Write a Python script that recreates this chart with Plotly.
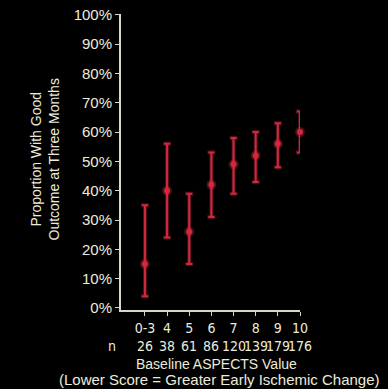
import plotly.graph_objects as go

categories = ["0-3", "4", "5", "6", "7", "8", "9", "10"]
n_counts = ["26", "38", "61", "86", "120", "139", "179", "176"]
proportion = [15, 40, 26, 42, 49, 52, 56, 60]
upper_ci = [35, 56, 39, 53, 58, 60, 63, 67]
lower_ci = [4, 24, 15, 31, 39, 43, 48, 53]
y_ticks = [0, 10, 20, 30, 40, 50, 60, 70, 80, 90, 100]
y_ticktext = [f"{v}%" for v in y_ticks]

xpos = list(range(len(categories)))
err_plus = [u - p for u, p in zip(upper_ci, proportion)]
err_minus = [p - l for p, l in zip(proportion, lower_ci)]

TXT = "#ecebdc"
RED = "#d2283e"
FONT = "Liberation Sans"
NARROW = "Liberation Sans Narrow, Arial Narrow, DejaVu Sans Condensed, Liberation Sans"
FS = 15

fig = go.Figure()
# glow layer
fig.add_trace(go.Scatter(
    x=xpos, y=proportion, mode="markers", cliponaxis=False,
    marker=dict(size=10, color="rgba(210,40,62,0.35)", symbol="circle"),
    error_y=dict(type="data", symmetric=False, array=err_plus, arrayminus=err_minus,
                 color="rgba(210,40,62,0.35)", thickness=4, width=4),
    hoverinfo="skip", showlegend=False))
fig.add_trace(go.Scatter(
    x=xpos, y=proportion, mode="markers", cliponaxis=False,
    marker=dict(size=6, color=RED, symbol="circle"),
    error_y=dict(type="data", symmetric=False, array=err_plus, arrayminus=err_minus,
                 color=RED, thickness=2, width=3),
    showlegend=False))

def ann(text, x, y, size=FS, family=FONT, xref="paper", **kw):
    return dict(text=text, xref=xref, yref="paper", x=x, y=y, showarrow=False,
                xanchor="center", yanchor="middle",
                font=dict(size=size, color=TXT, family=family), **kw)

annotations = [
    ann("Proportion With Good<br>Outcome at Three Months", -0.427, 0.507, size=14,
        textangle=-90),
    ann("n", -0.05, -0.122, size=14, family=NARROW),
    ann("Baseline ASPECTS Value", 0.536, -0.181, size=14),
    ann("(Lower Score = Greater Early Ischemic Change)", 0.553, -0.234, size=15),
]
for xp, n in zip(xpos, n_counts):
    annotations.append(ann(n, xp, -0.122, size=14, family=NARROW, xref="x"))

fig.update_layout(
    width=388, height=389,
    margin=dict(l=121, r=88, t=14, b=79),
    paper_bgcolor="black", plot_bgcolor="black",
    font=dict(family=FONT, size=FS, color=TXT),
    xaxis=dict(range=[-1.08, 7], tickvals=xpos, ticktext=categories, tickangle=0,
               automargin=False,
               showgrid=False, zeroline=False, showline=True, linecolor="#d8d8c8",
               linewidth=2, ticks="outside", ticklen=4, tickcolor="#d8d8c8",
               tickfont=dict(size=14, color=TXT, family=NARROW)),
    yaxis=dict(range=[-0.7, 100.3], tickvals=y_ticks, ticktext=y_ticktext,
               automargin=False,
               showgrid=False, zeroline=False, showline=True, linecolor="#d8d8c8",
               linewidth=2, ticks="outside", ticklen=4, tickcolor="#d8d8c8",
               tickfont=dict(size=15, color=TXT)),
    annotations=annotations,
)

fig.write_html("out.html", config={"displayModeBar": False},
               post_script="document.body.style.margin='0';document.body.style.background='black';")
